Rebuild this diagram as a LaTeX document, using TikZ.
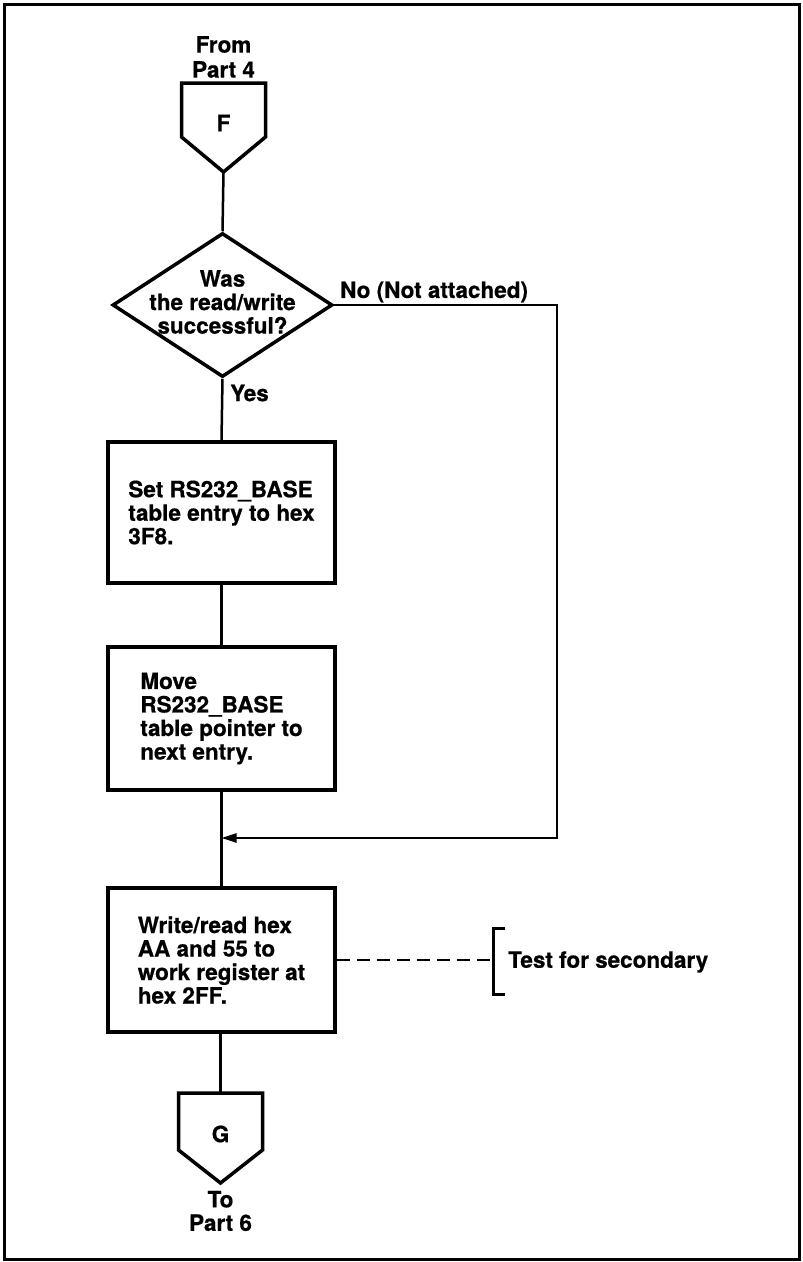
\documentclass[tikz,border=0pt]{standalone}
\usepackage{fontspec}
\setmainfont{TeX Gyre Heros}[FakeBold=0.6]
\usetikzlibrary{shapes.geometric,arrows.meta}

\begin{document}
\begin{tikzpicture}[x=1bp,y=-1bp,
  every node/.style={font=\fontsize{22.5bp}{23.5bp}\selectfont\bfseries, inner sep=0pt},
  procbox/.style={draw, line width=3.5bp, minimum width=227bp, align=left},
  offpage/.style={line width=3.5bp, line join=miter},
  flow/.style={line width=2.5bp},
  tip/.style={-{Triangle[length=15bp,width=9bp]}}]

\useasboundingbox (0,0) rectangle (803,1262);
% page frame
\draw[line width=3bp] (4.5,4.5) rectangle (799.5,1259.5);

% entry connector F
\node[align=center] (from) at (223.5,57) {From\\[1.5bp]Part 4};
\node (F) at (223.5,123) {F};
\draw[offpage] (181.5,137) -- (181.5,83) -- (265.5,83) -- (265.5,137) -- (223.5,172) -- cycle;
\coordinate (Ftip) at (223.5,172);

% decision
\node[diamond, draw, line width=3.5bp, minimum width=220bp, minimum height=144bp] (dec) at (222.5,305) {};
\node[align=center] (dectext) at (222.5,302) {Was\\the read/write\\successful?};
\node[anchor=west] (no) at (340,292) {No (Not attached)};
\node[anchor=west] (yes) at (230,393) {Yes};

% process boxes
\node[procbox, minimum height=141bp] (b1) at (221.5,512.5) {Set RS232\_BASE\\table entry to hex\\3F8.};
\node[procbox, minimum height=143bp] (b2) at (221.5,718.5) {Move\\RS232\_BASE\\table pointer to\\next entry.};
\node[procbox, minimum height=144bp] (b3) at (221.5,960) {Write/read hex\\AA and 55 to\\work register at\\hex 2FF.};

% exit connector G
\node (G) at (220.5,1134) {G};
\draw[offpage] (178.5,1150) -- (178.5,1093) -- (262.5,1093) -- (262.5,1150) -- (220.5,1183) -- cycle;
\coordinate (Gtop) at (220.5,1093);
\node[align=center] (to) at (220.5,1211) {To\\Part 6};

% main flow
\draw[flow] (Ftip) -- (dec.north);
\draw[flow] (dec.south) -- (b1.north);
\draw[flow] (b1.south) -- (b2.north);
\draw[flow] (b2.south) -- (b3.north);
\draw[flow] (Gtop |- b3.south) -- (Gtop);

% "No" branch rejoins the main line
\coordinate (join) at (221.5,838);
\coordinate (rc) at (557,838);
\draw[flow, tip] (dec.east) -| (rc) -- (join);

% annotation
\coordinate (brk) at (493,960);
\draw[flow, dash pattern=on 13bp off 7bp] (b3.east) -- (brk);
\draw[line width=3bp] (505,928) -- (493,928) -- (493,994) -- (505,994);
\node[anchor=west] (sec) at (508,962) {Test for secondary};
\end{tikzpicture}
\end{document}
